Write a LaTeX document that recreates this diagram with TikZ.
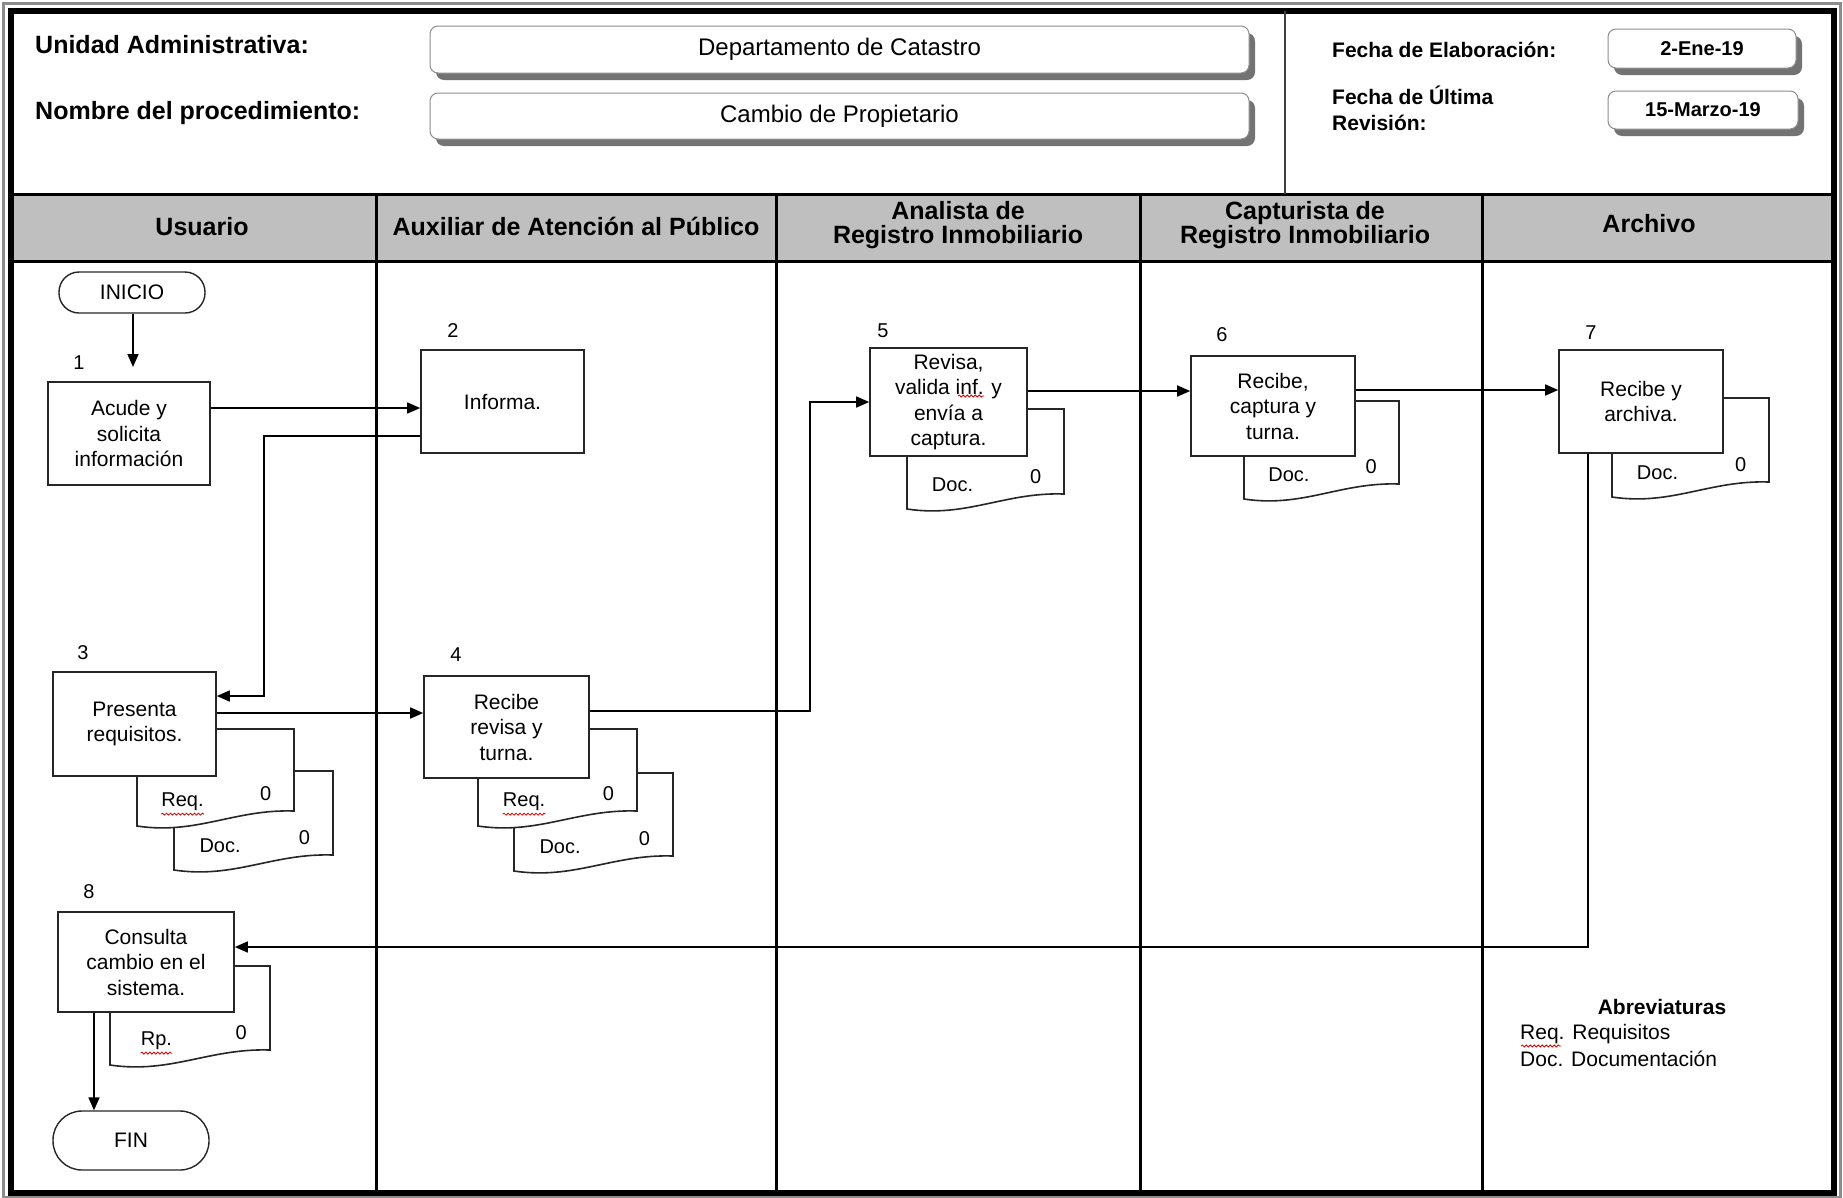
\documentclass[tikz,border=0pt]{standalone}
\usepackage{fontspec}
\setmainfont{Liberation Sans}
\usetikzlibrary{arrows.meta,shadows,decorations.pathmorphing}
\tikzset{
  frameline/.style={line width=6pt,black},
  laneline/.style={line width=3pt,black},
  hlab/.style={font=\fontsize{25}{28}\selectfont\bfseries,inner sep=0pt},
  flab/.style={font=\fontsize{21}{26}\selectfont\bfseries,inner sep=0pt,align=left},
  hbox/.style={draw=black!45,line width=1pt,fill=white,rounded corners=8pt,
     drop shadow={shadow xshift=6pt,shadow yshift=-7pt,fill=black!55,opacity=1},
     inner sep=0pt},
  hval/.style={font=\fontsize{24}{28}\selectfont},
  dval/.style={font=\fontsize{20}{24}\selectfont\bfseries},
  lanehead/.style={font=\fontsize{25}{24}\selectfont\bfseries,align=center,inner sep=0pt},
  proc/.style={draw=black!85,line width=1.6pt,fill=white,align=center,
     font=\fontsize{21}{25.5}\selectfont,inner sep=0pt},
  term/.style={draw=black!85,line width=1.4pt,fill=white,align=center,
     font=\fontsize{21}{25}\selectfont,inner sep=0pt},
  numlab/.style={font=\fontsize{20}{24}\selectfont,inner sep=0pt},
  docst/.style={draw=black!85,line width=1.6pt,fill=white},
  doctext/.style={font=\fontsize{20}{23}\selectfont,inner sep=0pt},
  conn/.style={line width=1.6pt,black},
  arr/.style={conn,-{Triangle[length=13pt,width=11pt]}},
  abtext/.style={font=\fontsize{21}{23}\selectfont,inner sep=0pt,anchor=west},
  spell/.style={red!85!black,line width=0.8pt,decorate,
     decoration={snake,amplitude=1pt,segment length=4pt}},
}
% x1 x2 top rightbottom label name
\newcommand\docsh[6]{%
  \draw[docst] (#1,#3) -- (#2,#3) -- (#2,#4)
    .. controls ({#2-0.38*(#2-#1)},{#4-2}) and ({#1+0.38*(#2-#1)},{#4+24}) .. (#1,{#4+15}) -- cycle;
  \node[doctext] (#6l) at ({#1+0.29*(#2-#1)},{#4-9}) {#5};
  \node[doctext] (#6z) at ({#2-0.18*(#2-#1)},{#4-17}) {0};
}
\begin{document}
\begin{tikzpicture}[x=1pt,y=-1pt]
\useasboundingbox (0,0) rectangle (1843,1197);
\fill[white] (0,0) rectangle (1843,1197);
% frame
\draw[line width=3pt,black!45] (3,3) rectangle (1840,1197);
\fill[black!25] (11,194) rectangle (1834,261);
\draw[frameline] (11,11) rectangle (1834,1193);
\draw[laneline] (11,194) -- (1834,194);
\draw[laneline] (11,261) -- (1834,261);
\draw[line width=2pt,black!75] (1285,11) -- (1285,194);
\foreach \xx in {376,776,1140,1482} {\draw[laneline] (\xx,194) -- (\xx,1193);}

% header
\node[hlab,anchor=west] (ua) at (35,45) {Unidad Administrativa:};
\node[hlab,anchor=west] (np) at (35,113) {Nombre del procedimiento:};
\node[hbox,minimum width=819pt,minimum height=47pt,hval] (dep) at (839.5,49.5) {Departamento de Catastro};
\node[hbox,minimum width=819pt,minimum height=46pt,hval] (proc) at (839.5,116) {Cambio de Propietario};
\node[flab,anchor=west] (fe) at (1332,50) {Fecha de Elaboración:};
\node[flab,anchor=west] (fr) at (1332,108) {Fecha de Última\\Revisión:};
\node[hbox,minimum width=188pt,minimum height=39pt,dval] (d1) at (1702,48.5) {2-Ene-19};
\node[hbox,minimum width=190pt,minimum height=38pt,dval] (d2) at (1703,110) {15-Marzo-19};

% lane headers
\node[lanehead] (l1) at (202,227) {Usuario};
\node[lanehead] (l2) at (576,226) {Auxiliar de Atención al Público};
\node[lanehead] (l3) at (958,225) {Analista de\\Registro Inmobiliario};
\node[lanehead] (l4) at (1305,225) {Capturista de\\Registro Inmobiliario};
\node[lanehead] (l5) at (1649,224) {Archivo};

% terminators
\node[term,minimum width=146pt,minimum height=41pt,rounded corners=20pt] (ini) at (132,292.5) {INICIO};
\node[term,minimum width=156pt,minimum height=59pt,rounded corners=29pt] (fin) at (131,1140.5) {FIN};

% step 1, 2
\node[proc,minimum width=162pt,minimum height=103pt] (b1) at (129,433.5) {Acude y\\solicita\\información};
\node[numlab] (n1) at (79,363) {1};
\node[proc,minimum width=163pt,minimum height=103pt] (b2) at (502.5,401.5) {Informa.};
\node[numlab] (n2) at (453,331) {2};

% step 3 with docs
\docsh{174}{333}{771}{855}{Doc.}{d3b}
\docsh{137}{294}{729}{811}{Req.}{d3a}
\node[proc,minimum width=163pt,minimum height=104pt] (b3) at (134.5,724) {Presenta\\requisitos.};
\node[numlab] (n3) at (83,653) {3};

% step 4 with docs
\docsh{514}{673}{773}{856}{Doc.}{d4b}
\docsh{478}{637}{729}{811}{Req.}{d4a}
\node[proc,minimum width=165pt,minimum height=102pt] (b4) at (506.5,727) {Recibe\\revisa y\\turna.};
\node[numlab] (n4) at (456,655) {4};

% step 5
\docsh{907}{1064}{409}{494}{Doc.}{d5}
\node[proc,minimum width=157pt,minimum height=108pt] (b5) at (948.5,402) {Revisa,\\valida inf. y\\envía a\\captura.};
\node[numlab] (n5) at (883,331) {5};

% step 6
\docsh{1244}{1399}{401}{484}{Doc.}{d6}
\node[proc,minimum width=164pt,minimum height=100pt] (b6) at (1273,406) {Recibe,\\captura y\\turna.};
\node[numlab] (n6) at (1222,335) {6};

% step 7
\docsh{1612}{1769}{398}{482}{Doc.}{d7}
\node[proc,minimum width=164pt,minimum height=103pt] (b7) at (1641,401.5) {Recibe y\\archiva.};
\node[numlab] (n7) at (1591,333) {7};

% step 8
\docsh{110}{270}{966}{1050}{Rp.}{d8}
\node[proc,minimum width=176pt,minimum height=100pt] (b8) at (146,962) {Consulta\\cambio en el\\sistema.};
\node[numlab] (n8) at (89,892) {8};

% spell-check marks
\draw[spell] ([yshift=-3pt]d3al.south west) -- ([yshift=-3pt]d3al.south east);
\draw[spell] ([yshift=-3pt]d4al.south west) -- ([yshift=-3pt]d4al.south east);
\draw[spell] ([yshift=-3pt]d8l.south west) -- ([yshift=-3pt]d8l.south east);
\draw[spell] (958,396) -- (984,396);

% connectors
\coordinate (c01) at (133,367);
\draw[arr] (ini.south -| c01) -- (c01);
\coordinate (y12) at (0,408);
\draw[arr] (b1.east |- y12) -- (b2.west |- y12);
\coordinate (k23a) at (264,436);
\coordinate (k23b) at (264,696);
\draw[arr] (b2.west |- k23a) -- (k23a) -- (k23b) -- (b3.east |- k23b);
\coordinate (y34) at (0,713);
\draw[arr] (b3.east |- y34) -- (b4.west |- y34);
\coordinate (k45a) at (810,711);
\coordinate (k45b) at (810,402);
\draw[arr] (b4.east |- k45a) -- (k45a) -- (k45b) -- (b5.west |- k45b);
\coordinate (y56) at (0,391);
\draw[arr] (b5.east |- y56) -- (b6.west |- y56);
\coordinate (y67) at (0,390);
\draw[arr] (b6.east |- y67) -- (b7.west |- y67);
\coordinate (k78) at (1588,947);
\draw[arr] (b7.south -| k78) -- (k78) -- (b8.east |- k78);
\coordinate (x8f) at (94,0);
\draw[arr] (b8.south -| x8f) -- (fin.north -| x8f);

% abbreviations
\node[font=\fontsize{21}{23}\selectfont\bfseries,inner sep=0pt] (abt) at (1662,1007) {Abreviaturas};
\node[abtext] (ab1) at (1520,1034) {Req. Requisitos};
\node[abtext] (ab2) at (1520,1059) {Doc. Documentación};
\draw[spell] (1521,1046) -- (1561,1046);
\end{tikzpicture}
\end{document}
